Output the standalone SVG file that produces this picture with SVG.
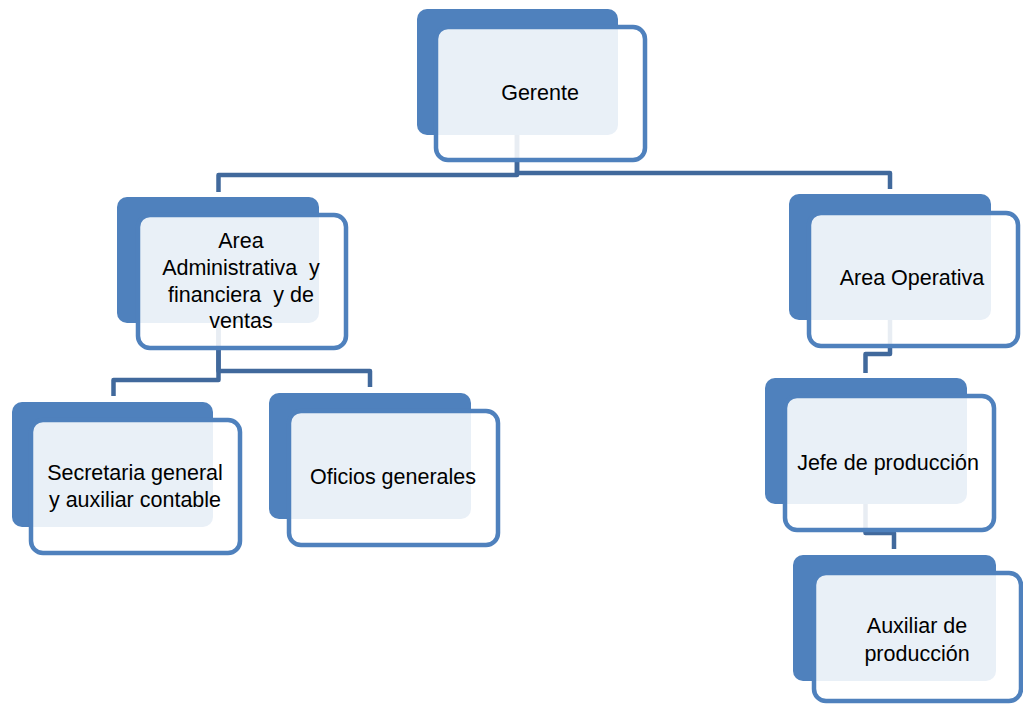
<svg xmlns="http://www.w3.org/2000/svg" width="1023" height="704" viewBox="0 0 1023 704">
<style>
.back{fill:#4F81BD;}
.front{fill:#FFFFFF;fill-opacity:0.88;stroke:#4F81BD;stroke-width:4.5;}
.conn{fill:none;stroke:#41699C;stroke-width:4.5;stroke-linejoin:round;}
text{font-family:"Liberation Sans",Arial,sans-serif;font-size:21.5px;fill:#000;text-anchor:middle;white-space:pre;}
</style>
<rect width="1023" height="704" fill="#FFFFFF"/>
<g id="connectors">
<path class="conn" d="M517,135 V175 H218.5 V192"/>
<path class="conn" d="M517,135 V173 H890 V189"/>
<path class="conn" d="M218.5,323 V380 H113.5 V396"/>
<path class="conn" d="M218.5,323 V371 H370 V387"/>
<path class="conn" d="M890,320 V354 H865.5 V373"/>
<path class="conn" d="M865.5,504 V533 H894 V549"/>
</g>
<g id="gerente">
<rect class="back" x="417" y="9" width="201" height="126" rx="10"/>
<rect class="front" x="436" y="27" width="209" height="133" rx="12"/>
<text x="540" y="100">Gerente</text>
</g>
<g id="area-administrativa">
<rect class="back" x="117" y="197" width="202" height="126" rx="10"/>
<rect class="front" x="138" y="215" width="208" height="133" rx="12"/>
<text x="241" y="248">Area</text>
<text x="241" y="275" xml:space="preserve">Administrativa  y</text>
<text x="241" y="302" xml:space="preserve">financiera  y de</text>
<text x="241" y="328">ventas</text>
</g>
<g id="area-operativa">
<rect class="back" x="789" y="194" width="202" height="126" rx="10"/>
<rect class="front" x="809" y="213" width="209" height="133" rx="12"/>
<text x="912" y="285">Area Operativa</text>
</g>
<g id="secretaria">
<rect class="back" x="12" y="402" width="201" height="125" rx="10"/>
<rect class="front" x="31" y="420" width="209" height="133" rx="12"/>
<text x="135" y="480">Secretaria general</text>
<text x="135" y="507">y auxiliar contable</text>
</g>
<g id="oficios">
<rect class="back" x="269" y="393" width="202" height="126" rx="10"/>
<rect class="front" x="289" y="411" width="209" height="134" rx="12"/>
<text x="393" y="484">Oficios generales</text>
</g>
<g id="jefe-produccion">
<rect class="back" x="765" y="378" width="202" height="126" rx="10"/>
<rect class="front" x="785" y="396" width="209" height="134" rx="12"/>
<text x="888" y="470">Jefe de producción</text>
</g>
<g id="auxiliar-produccion">
<rect class="back" x="793" y="555" width="203" height="126" rx="10"/>
<rect class="front" x="814" y="573" width="207" height="128" rx="12"/>
<text x="917" y="633">Auxiliar de</text>
<text x="917" y="661">producción</text>
</g>
</svg>
